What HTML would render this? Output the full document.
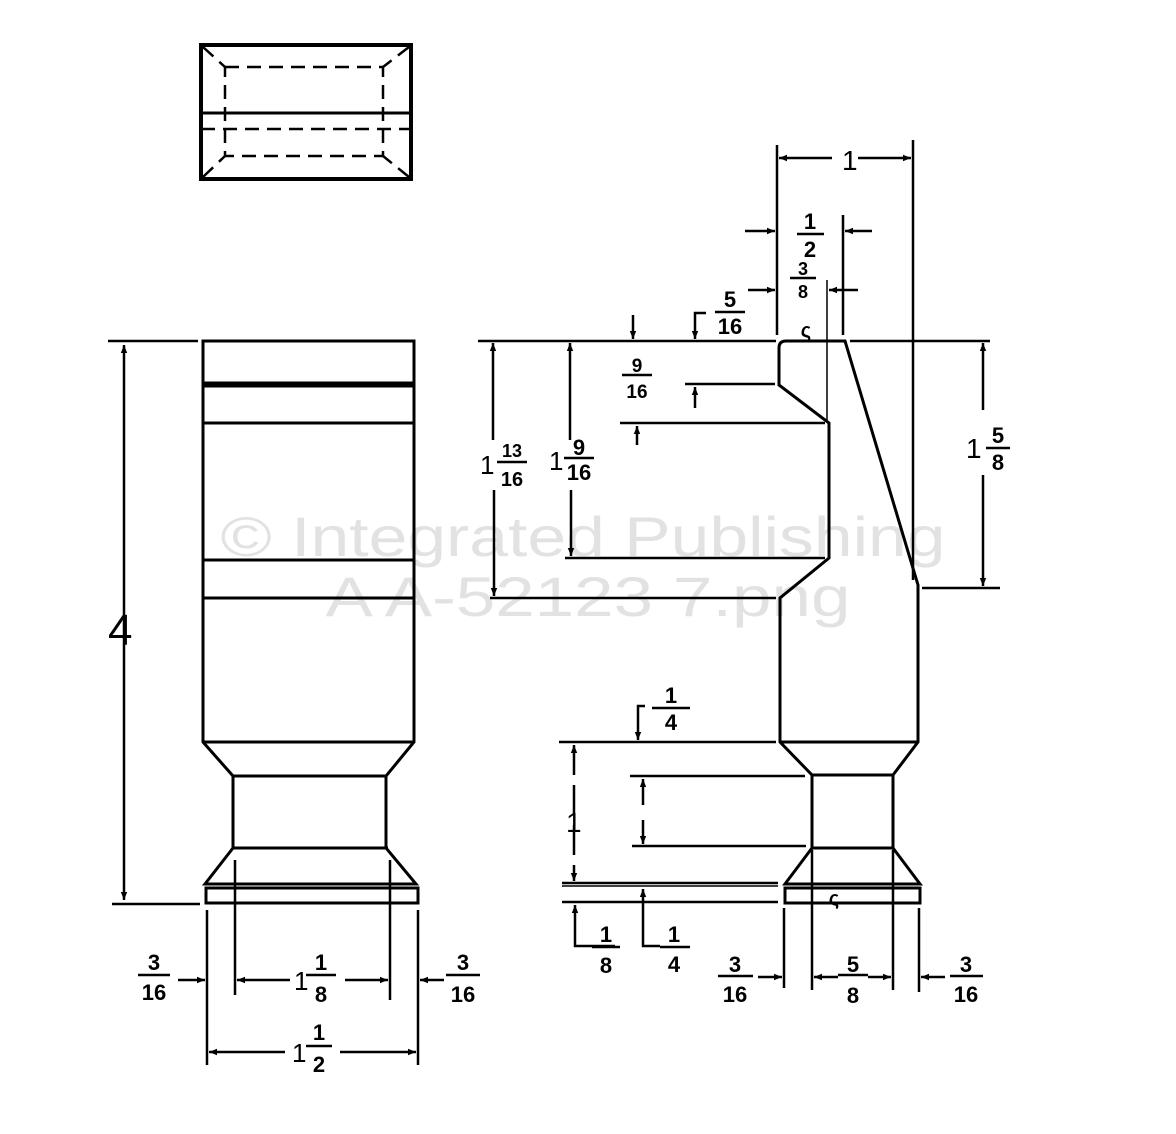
<!DOCTYPE html>
<html><head><meta charset="utf-8"><style>
html,body{margin:0;padding:0;background:#fff;}
svg{display:block}
text{font-family:"Liberation Sans",sans-serif;font-weight:bold;fill:#000;}
.f{font-size:22px;text-anchor:middle}
.w{font-family:"Liberation Sans",sans-serif;font-weight:normal;fill:#e2e2e2;font-size:56px;text-anchor:middle}
</style></head><body>
<svg width="1176" height="1134" viewBox="0 0 1176 1134" xmlns="http://www.w3.org/2000/svg">
<defs>
<marker id="a" viewBox="0 0 10 10" refX="10" refY="5" markerWidth="10" markerHeight="8" orient="auto-start-reverse" markerUnits="userSpaceOnUse"><path d="M0,1 L10,5 L0,9 z" fill="#000"/></marker>
</defs>
<text class="w" x="583" y="556" textLength="725" lengthAdjust="spacingAndGlyphs">© Integrated Publishing</text>
<text class="w" x="588" y="616" textLength="525" lengthAdjust="spacingAndGlyphs">A A-52123 7.png</text>

<g stroke="#000" fill="none" stroke-width="3">
<rect x="201" y="45" width="210" height="134" stroke-width="4"/>
<line x1="201" y1="113" x2="411" y2="113"/>
<g stroke-dasharray="14,8" stroke-width="2.5">
<rect x="225" y="67" width="158" height="89"/>
<line x1="201" y1="129" x2="411" y2="129"/>
<line x1="203" y1="47" x2="225" y2="67"/><line x1="409" y1="47" x2="383" y2="67"/>
<line x1="203" y1="177" x2="225" y2="156"/><line x1="409" y1="177" x2="383" y2="156"/>
</g>

<path d="M203,341 H414 V742 L386,776 V848 L416,884 H205 L233,848 V776 L203,742 Z"/>
<line x1="203" y1="383" x2="414" y2="383"/>
<line x1="203" y1="386" x2="414" y2="386"/>
<line x1="203" y1="423" x2="414" y2="423"/>
<line x1="203" y1="560" x2="414" y2="560"/>
<line x1="203" y1="598" x2="414" y2="598"/>
<line x1="203" y1="742" x2="414" y2="742"/>
<line x1="233" y1="776" x2="386" y2="776"/>
<line x1="233" y1="848" x2="388" y2="848"/>
<rect x="206" y="888" width="212" height="15"/>
<g stroke-width="2.5">
<line x1="108" y1="341" x2="198" y2="341"/>
<line x1="112" y1="904" x2="200" y2="904"/>
<line x1="124" y1="345" x2="124" y2="900" marker-start="url(#a)" marker-end="url(#a)"/>
<line x1="207" y1="910" x2="207" y2="1065"/>
<line x1="235" y1="860" x2="235" y2="995"/>
<line x1="390" y1="860" x2="390" y2="1000"/>
<line x1="418" y1="910" x2="418" y2="1065"/>
<line x1="178" y1="980" x2="205" y2="980" marker-end="url(#a)"/>
<line x1="237" y1="980" x2="290" y2="980" marker-start="url(#a)"/>
<line x1="345" y1="980" x2="388" y2="980" marker-end="url(#a)"/>
<line x1="444" y1="980" x2="420" y2="980" marker-end="url(#a)"/>
<line x1="209" y1="1052" x2="285" y2="1052" marker-start="url(#a)"/>
<line x1="340" y1="1052" x2="416" y2="1052" marker-end="url(#a)"/>
</g>

<path d="M786,341 H845 L918,585 V742 L893,775 V848 L920,884 H785 L812,848 V775 L780,742 V598 L829,558 V423 L779,385 V348 Q779,341 786,341 Z"/>
<line x1="780" y1="742" x2="918" y2="742"/>
<line x1="812" y1="775" x2="893" y2="775"/>
<line x1="812" y1="848" x2="893" y2="848"/>
<rect x="785" y="888" width="135" height="15"/>
<g stroke-width="2.5">
<line x1="478" y1="341" x2="776" y2="341"/>
<line x1="850" y1="341" x2="990" y2="341"/>
<line x1="777" y1="145" x2="777" y2="335"/>
<line x1="913" y1="140" x2="913" y2="580"/>
<line x1="843" y1="215" x2="843" y2="335"/>
<line x1="827" y1="280" x2="827" y2="420" stroke-width="1.5"/>
<line x1="779" y1="158" x2="832" y2="158" marker-start="url(#a)"/>
<line x1="858" y1="158" x2="911" y2="158" marker-end="url(#a)"/>
<line x1="745" y1="231" x2="775" y2="231" marker-end="url(#a)"/>
<line x1="872" y1="231" x2="845" y2="231" marker-end="url(#a)"/>
<line x1="748" y1="290" x2="775" y2="290" marker-end="url(#a)"/>
<line x1="858" y1="290" x2="829" y2="290" marker-end="url(#a)"/>
<line x1="633" y1="315" x2="633" y2="339" marker-end="url(#a)"/>
<path d="M706,313 H695 V339" marker-end="url(#a)"/>
<line x1="685" y1="384" x2="775" y2="384"/>
<line x1="695" y1="408" x2="695" y2="387" marker-end="url(#a)"/>
<line x1="620" y1="423" x2="825" y2="423"/>
<line x1="637" y1="445" x2="637" y2="426" marker-end="url(#a)"/>
<line x1="565" y1="558" x2="825" y2="558"/>
<line x1="490" y1="598" x2="776" y2="598"/>
<line x1="493" y1="343" x2="493" y2="440" marker-start="url(#a)"/>
<line x1="494" y1="490" x2="494" y2="596" marker-end="url(#a)"/>
<line x1="570" y1="343" x2="570" y2="440" marker-start="url(#a)"/>
<line x1="571" y1="490" x2="571" y2="556" marker-end="url(#a)"/>
<line x1="922" y1="588" x2="1000" y2="588"/>
<line x1="983" y1="343" x2="983" y2="410" marker-start="url(#a)"/>
<line x1="983" y1="475" x2="983" y2="586" marker-end="url(#a)"/>
<path d="M645,706 H638 V740" marker-end="url(#a)"/>
<line x1="559" y1="742" x2="776" y2="742"/>
<line x1="630" y1="776" x2="805" y2="776"/>
<line x1="632" y1="846" x2="806" y2="846"/>
<line x1="562" y1="883" x2="778" y2="883"/>
<line x1="562" y1="886" x2="778" y2="886" stroke-width="1.5"/>
<line x1="562" y1="902" x2="778" y2="902"/>
<line x1="574" y1="745" x2="574" y2="881" stroke-dasharray="30,10" marker-start="url(#a)" marker-end="url(#a)"/>
<line x1="643" y1="805" x2="643" y2="779" marker-end="url(#a)"/>
<line x1="643" y1="820" x2="643" y2="844" marker-end="url(#a)"/>
<path d="M615,946 H575 V905" marker-end="url(#a)"/>
<path d="M660,946 H643 V889" marker-end="url(#a)"/>
<line x1="784" y1="908" x2="784" y2="988"/>
<line x1="812" y1="850" x2="812" y2="990"/>
<line x1="893" y1="850" x2="893" y2="990"/>
<line x1="919" y1="908" x2="919" y2="992"/>
<line x1="758" y1="977" x2="782" y2="977" marker-end="url(#a)"/>
<line x1="814" y1="977" x2="838" y2="977" marker-start="url(#a)"/>
<line x1="868" y1="977" x2="891" y2="977" marker-end="url(#a)"/>
<line x1="945" y1="977" x2="921" y2="977" marker-end="url(#a)"/>
</g>
<g stroke-width="2.5">
<line x1="138" y1="975" x2="170" y2="975"/>
<line x1="306" y1="975" x2="336" y2="975"/>
<line x1="446" y1="975" x2="480" y2="975"/>
<line x1="306" y1="1046" x2="332" y2="1046"/>
<line x1="797" y1="234" x2="824" y2="234"/>
<line x1="790" y1="278" x2="816" y2="278"/>
<line x1="715" y1="312" x2="745" y2="312"/>
<line x1="622" y1="375" x2="652" y2="375"/>
<line x1="497" y1="462" x2="527" y2="462"/>
<line x1="564" y1="458" x2="594" y2="458"/>
<line x1="986" y1="448" x2="1010" y2="448"/>
<line x1="652" y1="708" x2="690" y2="708"/>
<line x1="592" y1="947" x2="620" y2="947"/>
<line x1="660" y1="947" x2="690" y2="947"/>
<line x1="718" y1="976" x2="753" y2="976"/>
<line x1="838" y1="975" x2="868" y2="975"/>
<line x1="950" y1="976" x2="983" y2="976"/>
</g>
</g>
<text x="108" y="645" style="font-size:44px;font-weight:normal">4</text>
<text class="f" x="154" y="970">3</text><text class="f" x="154" y="1000">16</text>
<text x="294" y="990" style="font-size:26px;font-weight:normal">1</text>
<text class="f" x="321" y="970">1</text><text class="f" x="321" y="1002">8</text>
<text class="f" x="463" y="970">3</text><text class="f" x="463" y="1002">16</text>
<text x="292" y="1062" style="font-size:26px;font-weight:normal">1</text>
<text class="f" x="319" y="1040">1</text><text class="f" x="319" y="1072">2</text>
<text x="842" y="170" style="font-size:28px;font-weight:normal">1</text>
<text class="f" x="810" y="229">1</text><text class="f" x="810" y="257">2</text>
<text class="f" x="803" y="275" style="font-size:18px">3</text><text class="f" x="803" y="298" style="font-size:18px">8</text>
<text class="f" x="730" y="307">5</text><text class="f" x="730" y="334">16</text>
<text class="f" x="806" y="337" style="font-size:20px">ς</text>
<text class="f" x="637" y="372" style="font-size:19px">9</text><text class="f" x="637" y="398" style="font-size:19px">16</text>
<text x="480" y="474" style="font-size:26px;font-weight:normal">1</text>
<text class="f" x="512" y="457" style="font-size:18px">13</text><text class="f" x="512" y="486" style="font-size:20px">16</text>
<text x="549" y="470" style="font-size:26px;font-weight:normal">1</text>
<text class="f" x="579" y="455">9</text><text class="f" x="579" y="480">16</text>
<text x="966" y="458" style="font-size:28px;font-weight:normal">1</text>
<text class="f" x="998" y="443">5</text><text class="f" x="998" y="470">8</text>
<text class="f" x="671" y="703">1</text><text class="f" x="671" y="730">4</text>
<text x="566" y="832" style="font-size:28px;font-weight:normal">1</text>
<text class="f" x="606" y="942">1</text><text class="f" x="606" y="973">8</text>
<text class="f" x="674" y="942">1</text><text class="f" x="674" y="972">4</text>
<text class="f" x="735" y="972">3</text><text class="f" x="735" y="1002">16</text>
<text class="f" x="853" y="972">5</text><text class="f" x="853" y="1003">8</text>
<text class="f" x="966" y="972">3</text><text class="f" x="966" y="1002">16</text>
<text class="f" x="834" y="905" style="font-size:20px">ς</text>
</svg>
</body></html>
